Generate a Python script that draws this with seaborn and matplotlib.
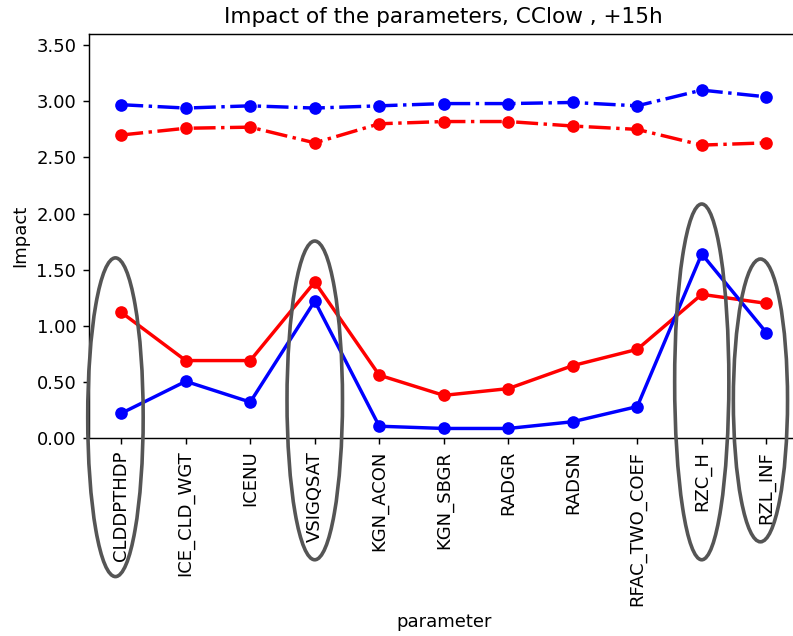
import matplotlib
matplotlib.use("Agg")
import matplotlib.pyplot as plt
from matplotlib.patches import Ellipse
from matplotlib.ticker import FormatStrFormatter
import numpy as np
import pandas as pd
import seaborn as sns

# Parameters on the x axis
parameters = ["CLDDPTHDP", "ICE_CLD_WGT", "ICENU", "VSIGQSAT", "KGN_ACON",
              "KGN_SBGR", "RADGR", "RADSN", "RFAC_TWO_COEF", "RZC_H", "RZL_INF"]

# Impact of each parameter, four series
blue_high = [2.97, 2.94, 2.96, 2.94, 2.96, 2.98, 2.98, 2.99, 2.96, 3.10, 3.04]
red_high = [2.70, 2.76, 2.77, 2.63, 2.80, 2.82, 2.82, 2.78, 2.75, 2.61, 2.63]
red_low = [1.12, 0.69, 0.69, 1.39, 0.56, 0.38, 0.44, 0.645, 0.79, 1.28, 1.20]
blue_low = [0.22, 0.505, 0.32, 1.22, 0.105, 0.085, 0.085, 0.145, 0.28, 1.64, 0.94]

series = {"blue_high": blue_high, "red_high": red_high,
          "red_low": red_low, "blue_low": blue_low}

df = pd.concat(
    [pd.DataFrame({"parameter": parameters, "Impact": vals, "series": name})
     for name, vals in series.items()],
    ignore_index=True,
)

palette = {"blue_high": "#0000ff", "red_high": "#ff0000",
           "red_low": "#ff0000", "blue_low": "#0000ff"}
dashes = {"blue_high": (6.4, 1.6, 1, 1.6), "red_high": (6.4, 1.6, 1, 1.6),
          "red_low": "", "blue_low": ""}
markers = {k: "o" for k in series}

DPI = 130
fig = plt.figure(figsize=(793 / DPI, 636 / DPI), dpi=DPI)
ax = fig.add_axes([89 / 793, 198 / 636, 709.5 / 793, 404 / 636])

sns.lineplot(data=df, x="parameter", y="Impact", hue="series", style="series",
             palette=palette, dashes=dashes, markers=markers, sort=False,
             linewidth=1.9, markersize=7, markeredgewidth=0, legend=False, ax=ax)

ax.set_xlim(-0.5, 10.5)
ax.set_ylim(0, 3.6)
ax.set_yticks(np.arange(0, 3.51, 0.5))
ax.yaxis.set_major_formatter(FormatStrFormatter("%.2f"))
ax.tick_params(axis="x", labelrotation=90)
ax.set_title("Impact of the parameters, CClow , +15h")
ax.set_xlabel("parameter")
ax.set_ylabel("Impact")

# Highlight rings around selected parameters
rings = [(-0.09, 0.185, 0.86, 2.84),
         (3.0, 0.335, 0.86, 2.84),
         (9.0, 0.50, 0.84, 3.17),
         (9.91, 0.335, 0.84, 2.52)]
for cx, cy, w, h in rings:
    ax.add_patch(Ellipse((cx, cy), w, h, fill=False, edgecolor="#555555",
                         linewidth=2.0, clip_on=False, zorder=5))

fig.savefig("out.png", dpi=DPI)
